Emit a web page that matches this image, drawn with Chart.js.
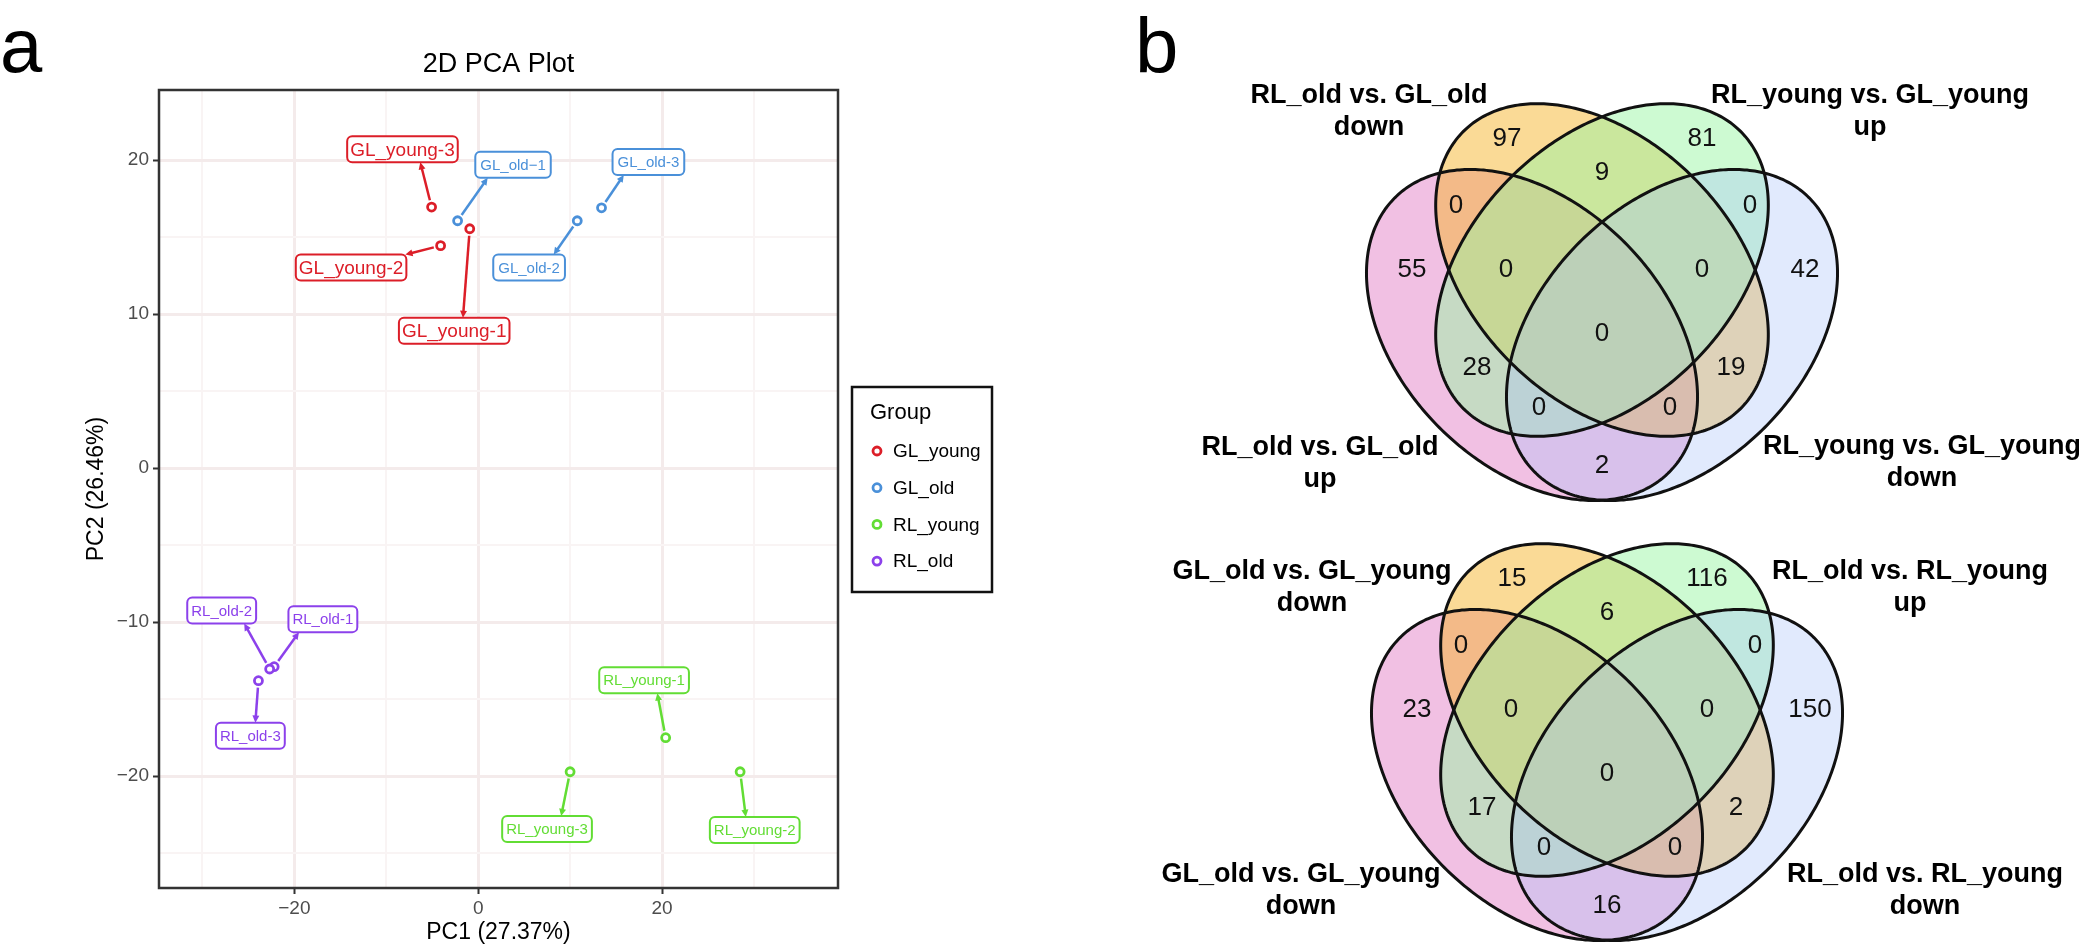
<!DOCTYPE html>
<html>
<head>
<meta charset="utf-8">
<script src="https://cdn.jsdelivr.net/npm/chart.js@4.4.1/dist/chart.umd.min.js"></script>
<style>
body { margin: 0; background: #fff; }
#wrap { position: relative; width: 2079px; height: 948px; overflow: hidden; background: #fff; }
canvas { position: absolute; top: 0; }
#pca { left: 0; }
#venn { left: 1040px; }
</style>
</head>
<body>
<div id="wrap">
  <canvas id="pca" width="1040" height="948"></canvas>
  <canvas id="venn" width="1039" height="948"></canvas>
</div>
<script>
const FONT = "'Liberation Sans', Arial, Helvetica, sans-serif";

// --- PCA data (samples 1,2,3 of each group) ---
const groups = ['GL_young', 'GL_old', 'RL_young', 'RL_old'];

const glYoungNames = ['GL_young-1', 'GL_young-2', 'GL_young-3'];
const glYoungPC1 = [-0.92, -4.09, -5.07];
const glYoungPC2 = [15.54, 14.44, 16.95];
const glYoungLabPC1 = [-2.61, -13.83, -8.24];
const glYoungLabPC2 = [8.91, 13.02, 20.70];

const glOldNames = ['GL_old\u22121', 'GL_old-2', 'GL_old-3'];
const glOldPC1 = [-2.24, 10.78, 13.42];
const glOldPC2 = [16.06, 16.06, 16.90];
const glOldLabPC1 = [3.79, 5.54, 18.52];
const glOldLabPC2 = [19.69, 13.02, 19.88];

const rlYoungNames = ['RL_young-1', 'RL_young-2', 'RL_young-3'];
const rlYoungPC1 = [20.40, 28.50, 10.00];
const rlYoungPC2 = [-17.51, -19.72, -19.72];
const rlYoungLabPC1 = [18.05, 30.09, 7.49];
const rlYoungLabPC2 = [-13.78, -23.50, -23.44];

const rlOldNames = ['RL_old-1', 'RL_old-2', 'RL_old-3'];
const rlOldPC1 = [-22.20, -22.69, -23.91];
const rlOldPC2 = [-12.90, -13.05, -13.81];
const rlOldLabPC1 = [-16.90, -27.91, -24.79];
const rlOldLabPC2 = [-9.81, -9.25, -17.38];

const pc1Breaks = [-20, 0, 20];
const pc1TickLabels = ['\u221220', '0', '20'];
const pc1Minor = [-30, -10, 10, 30];
const pc2Breaks = [-20, -10, 0, 10, 20];
const pc2TickLabels = ['\u221220', '\u221210', '0', '10', '20'];
const pc2Minor = [-25, -15, -5, 5, 15];

// --- Venn data ---
// regions: A=bottom-left set, B=top-left, C=top-right, D=bottom-right
const vennRegions = ['A', 'B', 'C', 'D', 'AB', 'BC', 'CD', 'AC', 'BD', 'AD', 'ABC', 'BCD', 'ACD', 'ABD', 'ABCD'];
const venn1Sets = ['RL_old vs. GL_old\nup', 'RL_old vs. GL_old\ndown', 'RL_young vs. GL_young\nup', 'RL_young vs. GL_young\ndown'];
const venn1Counts = [55, 97, 81, 42, 0, 9, 0, 28, 19, 2, 0, 0, 0, 0, 0];
const venn2Sets = ['GL_old vs. GL_young\ndown', 'GL_old vs. GL_young\ndown', 'RL_old vs. RL_young\nup', 'RL_old vs. RL_young\ndown'];
const venn2Counts = [23, 15, 116, 150, 0, 6, 0, 17, 2, 16, 0, 0, 0, 0, 0];

// --- styles / layout ---
const groupColors = ['#DC1E28', '#4A90D9', '#62DD34', '#8C41EB'];
const vennFills = ['rgba(228,130,200,0.5)', 'rgba(245,182,45,0.5)', 'rgba(155,245,165,0.5)', 'rgba(170,195,250,0.35)'];

// ellipse layout relative to venn centre: dx, dy, a, b, rotation(deg)
const vennEllipses = [
  [-70, 35, 194, 131, 45],
  [0, -30, 196, 130, 45],
  [0, -30, 196, 130, -45],
  [70, 35, 194, 131, -45]
];
const regionOffset = {
  A: [-190, -31], B: [-95, -162], C: [100, -162], D: [203, -31],
  AB: [-146, -95], BC: [0, -128], CD: [148, -95], AC: [-125, 67], BD: [129, 67], AD: [0, 165],
  ABC: [-96, -31], BCD: [100, -31], ACD: [-63, 107], ABD: [68, 107], ABCD: [0, 33]
};
const vennPanels = [
  { cx: 562, cy: 300, sets: venn1Sets, counts: venn1Counts, labelPos: [[-282, 148], [-233, -204], [268, -204], [320, 147]] },
  { cx: 567, cy: 740, sets: venn2Sets, counts: venn2Counts, labelPos: [[-306, 135], [-295, -168], [303, -168], [318, 135]] }
];

const labelSets = [
  { names: glYoungNames, px: glYoungPC1, py: glYoungPC2, lx: glYoungLabPC1, ly: glYoungLabPC2, size: 19, pad: 3 },
  { names: glOldNames, px: glOldPC1, py: glOldPC2, lx: glOldLabPC1, ly: glOldLabPC2, size: 15, pad: 5 },
  { names: rlYoungNames, px: rlYoungPC1, py: rlYoungPC2, lx: rlYoungLabPC1, ly: rlYoungLabPC2, size: 15, pad: 4 },
  { names: rlOldNames, px: rlOldPC1, py: rlOldPC2, lx: rlOldLabPC1, ly: rlOldLabPC2, size: 15, pad: 4 }
];

function toPoints(xs, ys) {
  return xs.map((v, i) => ({ x: v, y: ys[i] }));
}

function drawArrow(ctx, x0, y0, x1, y1) {
  const ang = Math.atan2(y1 - y0, x1 - x0);
  const len = 8;
  ctx.beginPath();
  ctx.moveTo(x0, y0);
  ctx.lineTo(x1 - Math.cos(ang) * len * 0.7, y1 - Math.sin(ang) * len * 0.7);
  ctx.stroke();
  ctx.beginPath();
  ctx.moveTo(x1, y1);
  ctx.lineTo(x1 - len * Math.cos(ang - 0.45), y1 - len * Math.sin(ang - 0.45));
  ctx.lineTo(x1 - len * Math.cos(ang + 0.45), y1 - len * Math.sin(ang + 0.45));
  ctx.closePath();
  ctx.fill();
}

// where the segment from (px,py) meets the label box (half sizes hw, hh)
function segmentEnd(px, py, lx, ly, hw, hh) {
  const cx = Math.min(Math.max(px, lx - hw), lx + hw);
  const cy = Math.min(Math.max(py, ly - hh), ly + hh);
  const dx = lx - px, dy = ly - py;
  let t = 1;
  if (Math.abs(dx) > 1e-6) t = Math.min(t, Math.max(0, (Math.abs(dx) - hw) / Math.abs(dx)));
  if (Math.abs(dy) > 1e-6) t = Math.max(Math.min(1, (Math.abs(dy) - hh) / Math.abs(dy)), Math.abs(dx) > 1e-6 ? Math.min(1, Math.max(0, (Math.abs(dx) - hw) / Math.abs(dx))) : 0);
  const ix = px + dx * t, iy = py + dy * t;
  return [(cx + ix) / 2, (cy + iy) / 2];
}

const pcaDecor = {
  id: 'pcaDecor',
  afterDatasetsDraw(chart) {
    const { ctx, scales: { x, y } } = chart;
    ctx.save();
    labelSets.forEach((set, g) => {
      const col = groupColors[g];
      set.names.forEach((name, i) => {
        const px = x.getPixelForValue(set.px[i]);
        const py = y.getPixelForValue(set.py[i]);
        const lx = x.getPixelForValue(set.lx[i]);
        const ly = y.getPixelForValue(set.ly[i]);
        ctx.font = set.size + 'px ' + FONT;
        const w = ctx.measureText(name).width + set.pad * 2;
        const h = 26;
        const end = segmentEnd(px, py, lx, ly, w / 2, h / 2);
        const ang = Math.atan2(end[1] - py, end[0] - px);
        ctx.strokeStyle = col;
        ctx.fillStyle = col;
        ctx.lineWidth = 2.5;
        drawArrow(ctx, px + Math.cos(ang) * 7, py + Math.sin(ang) * 7, end[0], end[1]);
        ctx.beginPath();
        ctx.roundRect(lx - w / 2, ly - h / 2, w, h, 5);
        ctx.fillStyle = '#fff';
        ctx.fill();
        ctx.lineWidth = 2;
        ctx.stroke();
        ctx.fillStyle = col;
        ctx.textAlign = 'center';
        ctx.textBaseline = 'middle';
        ctx.fillText(name, lx, ly + 1);
      });
    });
    ctx.restore();
  },
  afterDraw(chart) {
    const { ctx, chartArea: a } = chart;
    ctx.save();
    // panel border
    ctx.strokeStyle = '#333';
    ctx.lineWidth = 2.5;
    ctx.strokeRect(a.left, a.top, a.right - a.left, a.bottom - a.top);
    // texts
    ctx.fillStyle = '#000';
    ctx.textAlign = 'left';
    ctx.textBaseline = 'alphabetic';
    ctx.font = '76px ' + FONT;
    ctx.fillText('a', 0, 72);
    ctx.textAlign = 'center';
    ctx.font = '27px ' + FONT;
    ctx.fillText('2D PCA Plot', (a.left + a.right) / 2, 72);
    ctx.font = '23px ' + FONT;
    ctx.textBaseline = 'middle';
    ctx.fillText('PC1 (27.37%)', (a.left + a.right) / 2, 933);
    ctx.save();
    ctx.translate(97, (a.top + a.bottom) / 2);
    ctx.rotate(-Math.PI / 2);
    ctx.fillText('PC2 (26.46%)', 0, 0);
    ctx.restore();
    // legend
    ctx.lineWidth = 2.5;
    ctx.strokeStyle = '#111';
    ctx.strokeRect(852, 387, 140, 205);
    ctx.textAlign = 'left';
    ctx.textBaseline = 'alphabetic';
    ctx.font = '22px ' + FONT;
    ctx.fillStyle = '#000';
    ctx.fillText('Group', 870, 419);
    ctx.font = '19px ' + FONT;
    groups.forEach((gname, i) => {
      const yy = 451 + i * 36.7;
      ctx.beginPath();
      ctx.arc(877, yy, 4, 0, Math.PI * 2);
      ctx.strokeStyle = groupColors[i];
      ctx.lineWidth = 2.8;
      ctx.stroke();
      ctx.fillStyle = '#000';
      ctx.textBaseline = 'middle';
      ctx.fillText(gname, 893, yy + 1);
    });
    ctx.restore();
  }
};

function isIn(arr, v) { return arr.some(b => Math.abs(b - v) < 1e-9); }

new Chart(document.getElementById('pca'), {
  type: 'scatter',
  data: {
    datasets: [
      { label: groups[0], data: toPoints(glYoungPC1, glYoungPC2) },
      { label: groups[1], data: toPoints(glOldPC1, glOldPC2) },
      { label: groups[2], data: toPoints(rlYoungPC1, rlYoungPC2) },
      { label: groups[3], data: toPoints(rlOldPC1, rlOldPC2) }
    ].map((d, i) => Object.assign(d, {
      pointStyle: 'circle', pointRadius: 4, pointBorderWidth: 2.8,
      borderColor: groupColors[i], backgroundColor: '#fff'
    }))
  },
  options: {
    responsive: false,
    animation: false,
    devicePixelRatio: 1,
    layout: { padding: { left: 0, top: 90, right: 202, bottom: 0 } },
    plugins: { legend: { display: false }, tooltip: { enabled: false } },
    scales: {
      x: {
        type: 'linear', min: -34.73, max: 39.15,
        afterBuildTicks: s => { s.ticks = pc1Breaks.concat(pc1Minor).sort((p, q) => p - q).map(v => ({ value: v })); },
        afterFit: s => { s.height = 60; },
        border: { display: false },
        grid: {
          color: c => isIn(pc1Breaks, c.tick.value) ? '#f4ebeb' : '#f9f4f4',
          lineWidth: c => isIn(pc1Breaks, c.tick.value) ? 3 : 2,
          tickColor: c => isIn(pc1Breaks, c.tick.value) ? '#333' : 'rgba(0,0,0,0)',
          tickLength: 6, tickWidth: 2
        },
        ticks: {
          autoSkip: false, maxRotation: 0, padding: 3, color: '#4d4d4d',
          font: { size: 19, family: FONT },
          callback: v => { const k = pc1Breaks.indexOf(v); return k >= 0 ? pc1TickLabels[k] : ''; }
        }
      },
      y: {
        type: 'linear', min: -27.27, max: 24.55,
        afterBuildTicks: s => { s.ticks = pc2Breaks.concat(pc2Minor).sort((p, q) => p - q).map(v => ({ value: v })); },
        afterFit: s => { s.width = 159; },
        border: { display: false },
        grid: {
          color: c => isIn(pc2Breaks, c.tick.value) ? '#f4ebeb' : '#f9f4f4',
          lineWidth: c => isIn(pc2Breaks, c.tick.value) ? 3 : 2,
          tickColor: c => isIn(pc2Breaks, c.tick.value) ? '#333' : 'rgba(0,0,0,0)',
          tickLength: 6, tickWidth: 2
        },
        ticks: {
          autoSkip: false, padding: 4, color: '#4d4d4d',
          font: { size: 19, family: FONT },
          callback: v => { const k = pc2Breaks.indexOf(v); return k >= 0 ? pc2TickLabels[k] : ''; }
        }
      }
    }
  },
  plugins: [pcaDecor]
});

// ---------------- Venn panel ----------------
function ellipsePath(ctx, xs, ys, cx, cy, a, b, rotDeg) {
  const r = rotDeg * Math.PI / 180;
  ctx.beginPath();
  for (let k = 0; k <= 360; k++) {
    const t = k * Math.PI / 180;
    const ex = cx + a * Math.cos(t) * Math.cos(r) - b * Math.sin(t) * Math.sin(r);
    const ey = cy + a * Math.cos(t) * Math.sin(r) + b * Math.sin(t) * Math.cos(r);
    const X = xs.getPixelForValue(ex), Y = ys.getPixelForValue(ey);
    if (k === 0) ctx.moveTo(X, Y); else ctx.lineTo(X, Y);
  }
  ctx.closePath();
}

const vennPlugin = {
  id: 'vennPlugin',
  beforeDatasetsDraw(chart) {
    const { ctx, scales: { x, y } } = chart;
    ctx.save();
    vennPanels.forEach(p => {
      vennEllipses.forEach((e, i) => {
        ellipsePath(ctx, x, y, p.cx + e[0], p.cy + e[1], e[2], e[3], e[4]);
        ctx.fillStyle = vennFills[i];
        ctx.fill();
      });
      vennEllipses.forEach(e => {
        ellipsePath(ctx, x, y, p.cx + e[0], p.cy + e[1], e[2], e[3], e[4]);
        ctx.strokeStyle = '#111';
        ctx.lineWidth = 3;
        ctx.stroke();
      });
    });
    ctx.restore();
  },
  afterDatasetsDraw(chart) {
    const { ctx, scales: { x, y } } = chart;
    ctx.save();
    ctx.fillStyle = '#111';
    ctx.textAlign = 'center';
    ctx.textBaseline = 'middle';
    ctx.font = '26px ' + FONT;
    chart.data.datasets.forEach((ds, di) => {
      const meta = chart.getDatasetMeta(di);
      meta.data.forEach((el, i) => ctx.fillText(String(ds.data[i].count), el.x, el.y + 1));
    });
    ctx.font = 'bold 27px ' + FONT;
    ctx.fillStyle = '#000';
    vennPanels.forEach(p => {
      p.sets.forEach((name, i) => {
        const lines = name.split('\n');
        const lx = x.getPixelForValue(p.cx + p.labelPos[i][0]);
        lines.forEach((ln, k) => {
          ctx.fillText(ln, lx, y.getPixelForValue(p.cy + p.labelPos[i][1] + k * 32));
        });
      });
    });
    ctx.textAlign = 'left';
    ctx.textBaseline = 'alphabetic';
    ctx.font = '78px ' + FONT;
    ctx.fillText('b', 95, 73);
    ctx.restore();
  }
};

new Chart(document.getElementById('venn'), {
  type: 'scatter',
  data: {
    datasets: vennPanels.map(p => ({
      data: vennRegions.map((r, i) => ({ x: p.cx + regionOffset[r][0], y: p.cy + regionOffset[r][1], count: p.counts[i] })),
      pointRadius: 0
    }))
  },
  options: {
    responsive: false,
    animation: false,
    devicePixelRatio: 1,
    layout: { padding: 0 },
    plugins: { legend: { display: false }, tooltip: { enabled: false } },
    scales: {
      x: { type: 'linear', min: 0, max: 1039, display: false },
      y: { type: 'linear', min: 0, max: 948, reverse: true, display: false }
    }
  },
  plugins: [vennPlugin]
});
</script>
</body>
</html>
